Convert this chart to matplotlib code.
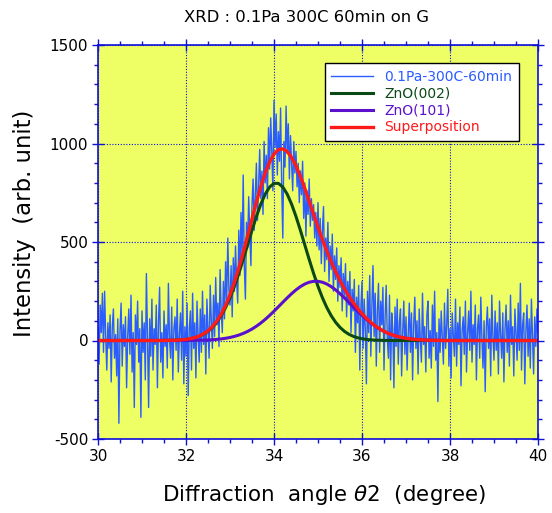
import numpy as np
from matplotlib import pyplot as plt
from matplotlib.ticker import MultipleLocator

#%% data

# measured scan, 30..40 deg, step 0.025
angle = np.linspace(30, 40, 401)
intensity = [
    60, -120, 180, 40, 240, -60, 250, 20, -150, 90,
    -40, 130, -210, 70, 160, -90, 30, -180, 110, -420,
    50, 190, -130, 80, -30, 120, -240, 20, 160, -70,
    230, -160, 40, -340, 130, -20, 200, -110, 60, -390,
    150, -60, 90, -200, 340, 20, -340, 110, -80, 210,
    -150, 60, -20, 180, -240, 90, 270, -110, 40, -190,
    150, -30, 80, -140, 290, 10, -90, 170, -200, 60,
    120, -50, 210, -160, 30, 140, -100, 250, -220, 70,
    -80, 190, -280, 60, 150, -150, 240, -40, 90, -190,
    200, 30, -110, 160, -60, 250, -20, 130, -170, 210,
    60, -90, 280, 100, -40, 230, 20, 320, 80, 190,
    -30, 360, 150, 40, 300, 110, 400, 190, 520, 260,
    180, 380, 120, 420, 250, 480, 310, 190, 560, 330,
    650, 420, 840, 380, 210, 600, 470, 730, 540, 380,
    690, 820, 560, 740, 900, 610, 780, 970, 720, 860,
    640, 1010, 800, 940, 720, 1080, 870, 1130, 960, 760,
    1220, 980, 1150, 840, 1060, 910, 1180, 780, 520, 1010,
    880, 1190, 950, 1100, 820, 1040, 900, 760, 1010, 850,
    960, 780, 900, 700, 860, 740, 910, 620, 800, 530,
    760, 640, 820, 580, 720, 610, 690, 520, 650, 480,
    700, 460, 620, 390, 560, 680, 350, 520, 410, 600,
    300, 480, 360, 540, 250, 430, 310, 470, 200, 380,
    270, 420, 150, 340, 230, 390, 120, 300, 180, 350,
    40, 260, 150, 310, -60, 220, 90, 280, -150, 170,
    300, -40, 210, 60, -220, 250, 40, 330, -80, 180,
    380, 20, 240, -130, 150, 290, -60, 200, 80, 270,
    -150, 120, 280, 10, -90, 230, -200, 140, 60, -240,
    170, -30, 210, -120, 90, 160, -180, 40, 200, -70,
    120, -150, 30, 190, -60, 140, -200, 80, 220, -40,
    100, -170, 160, 10, -110, 240, -20, 70, -160, 130,
    200, -90, 50, -140, 180, -30, 250, -100, 40, -310,
    110, -60, 150, 20, -120, 190, -40, 80, 260, -130,
    60, -190, 140, 30, -80, 210, -130, 90, -20, 170,
    -230, 50, 120, -70, 200, -160, 40, 150, -50, 250,
    -110, 80, -20, 180, -200, 60, 130, -90, 220, 10,
    -140, 100, -260, 70, 170, -40, 110, -180, 230, 20,
    -100, 150, -50, 90, -170, 200, 30, -90, 140, -210,
    60, 180, -60, 100, -130, 230, -20, 70, -180, 160,
    40, -100, 190, -50, 290, -150, 80, 140, -220, 50,
    180, -80, 110, -140, 210, 20, -170, 120, -30, 160,
    40,
]

# fitted components, 30..40 deg, step 0.1
fit_angle = np.linspace(30, 40, 101)
zno002 = [0] * 15 + [
    0.4, 0.7, 1.2, 2.0, 3.4, 5.5, 8.9, 13.9, 21.3, 31.9,
    46.6, 66.5, 92.6, 125.9, 167.3, 217.0, 275.0, 340.2, 411.1, 485.2,
    559.3, 629.5, 692.0, 743.0, 779.0, 797.6, 797.6, 779.0, 743.0, 692.0,
    629.5, 559.3, 485.2, 411.1, 340.2, 275.0, 217.0, 167.3, 125.9, 92.6,
    66.5, 46.6, 31.9, 21.3, 13.9, 8.9, 5.5, 3.4, 2.0, 1.2,
    0.7, 0.4] + [0] * 34
zno101 = [0] * 21 + [
    0.5, 0.8, 1.2, 1.9, 2.8, 4.0, 5.8, 8.1, 11.3, 15.4,
    20.8, 27.5, 35.9, 46.1, 58.2, 72.5, 88.8, 107.1, 127.2, 148.7,
    171.2, 194.0, 216.4, 237.6, 257.0, 273.5, 286.7, 295.8, 300.4, 300.4,
    295.8, 286.7, 273.5, 257.0, 237.6, 216.4, 194.0, 171.2, 148.7, 127.2,
    107.1, 88.8, 72.5, 58.2, 46.1, 35.9, 27.5, 20.8, 15.4, 11.3,
    8.1, 5.8, 4.0, 2.8, 1.9, 1.2, 0.8, 0.5] + [0] * 22
superpos = np.array(zno002) + np.array(zno101)

#%% plot

C_DATA = '#2a5cff'
C_002 = '#0b4a17'
C_101 = '#5a10cc'
C_SUM = '#ff1a1a'
C_AX = '#1010d8'

plt.rcParams['font.family'] = 'DejaVu Sans'
plt.rcParams['axes.unicode_minus'] = False

fig = plt.figure(figsize=(5.52, 5.13), dpi=100)
ax = fig.add_axes([98/552, 1 - 439/513, 440/552, 394/513])
ax.set_facecolor('#eeff66')

ax.plot(angle, intensity, color=C_DATA, lw=1.0, label='0.1Pa-300C-60min')
ax.plot(fit_angle, zno002, color=C_002, lw=2.2, label='ZnO(002)')
ax.plot(fit_angle, zno101, color=C_101, lw=2.2, label='ZnO(101)')
ax.plot(fit_angle, superpos, color=C_SUM, lw=2.4, label='Superposition')

ax.set_xlim(30, 40)
ax.set_ylim(-500, 1500)
ax.xaxis.set_major_locator(MultipleLocator(2))
ax.xaxis.set_minor_locator(MultipleLocator(0.5))
ax.yaxis.set_major_locator(MultipleLocator(500))
ax.yaxis.set_minor_locator(MultipleLocator(100))

for s in ax.spines.values():
    s.set_color(C_AX)
    s.set_linewidth(1.2)
ax.tick_params(which='major', direction='inout', length=8, width=1, color=C_AX,
               top=True, right=True, labelsize=11, pad=3)
ax.tick_params(which='minor', direction='out', length=3, width=1, color=C_AX,
               top=True, right=True)
ax.grid(True, which='major', color=C_AX, ls=(0, (1, 1.5)), lw=0.8)

leg = ax.legend(loc='upper right', bbox_to_anchor=(0.957, 0.954), fontsize=10,
                handlelength=3.0, labelspacing=0.2, borderpad=0.5, borderaxespad=0,
                fancybox=False, framealpha=1, edgecolor='black')
leg.get_frame().set_linewidth(1.0)
for txt, c in zip(leg.get_texts(), [C_DATA, C_002, C_101, C_SUM]):
    txt.set_color(c)

fig.text(306/552, 1 - 18/513, 'XRD : 0.1Pa 300C 60min on G', ha='center', va='center',
         fontsize=11.8)
fig.text(324/552, 1 - 495/513, r'Diffraction  angle $\theta$2  (degree)', ha='center',
         va='center', fontsize=15.4)
fig.text(25/552, 1 - 223/513, 'Intensity  (arb. unit)', ha='center', va='center',
         rotation=90, fontsize=16.4)

plt.savefig('out.png', dpi=100)
